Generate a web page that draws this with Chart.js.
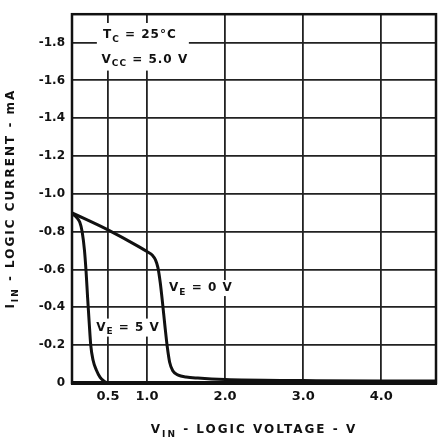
<!DOCTYPE html>
<html>
<head>
<meta charset="utf-8">
<script src="https://cdn.jsdelivr.net/npm/chart.js@4.4.1/dist/chart.umd.min.js"></script>
<style>
  html, body { margin: 0; background: #fff; }
</style>
</head>
<body>
<canvas id="grafica" width="439" height="441"></canvas>
<script>
// input voltage (V) and input current (mA)
var vinE0 = [0.04, 0.5, 0.9, 1.0, 1.07, 1.11, 1.14, 1.17, 1.2, 1.23, 1.26, 1.29, 1.33, 1.4, 1.5, 1.65, 2.0, 3.0, 4.0, 4.7];
var iinE0 = [-0.9, -0.81, -0.72, -0.695, -0.675, -0.65, -0.61, -0.53, -0.42, -0.3, -0.19, -0.11, -0.065, -0.042, -0.032, -0.026, -0.018, -0.013, -0.01, -0.01];
var vinE5 = [0.04, 0.1, 0.14, 0.17, 0.2, 0.22, 0.24, 0.26, 0.28, 0.31, 0.35, 0.4, 0.45, 0.49];
var iinE5 = [-0.895, -0.875, -0.85, -0.8, -0.7, -0.59, -0.45, -0.32, -0.2, -0.12, -0.07, -0.03, -0.01, 0];
var xTicks = [0.5, 1.0, 2.0, 3.0, 4.0];
var yTicks = [-1.8, -1.6, -1.4, -1.2, -1.0, -0.8, -0.6, -0.4, -0.2, 0];

var INK = '#111';
var FAM = '"DejaVu Sans", sans-serif';

function pts(xs, ys) {
    return xs.map(function(x, i){ return {x: x, y: ys[i]}; });
}

// text with subscripts, parts = [[text, isSub], ...]
function richText(ctx, parts, x, y, size, spacing) {
    var sub = Math.round(size * 0.75);
    var w = 0;
    ctx.letterSpacing = spacing + 'px';
    parts.forEach(function(p){
        ctx.font = 'bold ' + (p[1] ? sub : size) + 'px ' + FAM;
        w += ctx.measureText(p[0]).width;
    });
    var cx = x - w / 2;
    ctx.textBaseline = 'middle';
    ctx.textAlign = 'left';
    ctx.fillStyle = INK;
    parts.forEach(function(p){
        ctx.font = 'bold ' + (p[1] ? sub : size) + 'px ' + FAM;
        ctx.fillText(p[0], cx, p[1] ? y + size * 0.35 : y);
        cx += ctx.measureText(p[0]).width;
    });
    return w;
}

function whiteBox(ctx, x0, y0, x1, y1) {
    ctx.fillStyle = '#fff';
    ctx.fillRect(x0, y0, x1 - x0, y1 - y0);
}

var notas = {
    id: 'notas',
    beforeDatasetsDraw: function(chart) {
        var ctx = chart.ctx, xs = chart.scales.x, ys = chart.scales.y;
        ctx.save();
        // condition box
        var bx = xs.getPixelForValue(0.96), by1 = ys.getPixelForValue(-1.84), by2 = ys.getPixelForValue(-1.71);
        whiteBox(ctx, bx - 47, by1 - 12, bx + 45, by2 + 11);
        richText(ctx, [['T', 0], ['C', 1], [' = 25°C', 0]], bx - 4, by1, 12, 1);
        richText(ctx, [['V', 0], ['CC', 1], [' = 5.0 V', 0]], bx + 1, by2, 12, 1);
        // curve labels
        var ax = xs.getPixelForValue(1.69), ay = ys.getPixelForValue(-0.502);
        whiteBox(ctx, ax - 33, ay - 8, ax + 28, ay + 8);
        richText(ctx, [['V', 0], ['E', 1], [' = 0 V', 0]], ax, ay, 12, 1);
        var cx = xs.getPixelForValue(0.757), cy = ys.getPixelForValue(-0.293);
        whiteBox(ctx, cx - 33, cy - 9, cx + 30, cy + 9);
        richText(ctx, [['V', 0], ['E', 1], [' = 5 V', 0]], cx, cy, 12, 1);
        ctx.restore();
    },
    afterDraw: function(chart) {
        var ctx = chart.ctx, a = chart.chartArea;
        ctx.save();
        ctx.strokeStyle = INK;
        ctx.lineWidth = 2.5;
        ctx.strokeRect(a.left, a.top, a.right - a.left, a.bottom - a.top);
        ctx.lineWidth = 4;
        ctx.beginPath();
        ctx.moveTo(a.left - 1, a.bottom);
        ctx.lineTo(a.right + 1, a.bottom);
        ctx.stroke();
        // axis titles
        richText(ctx, [['V', 0], ['IN', 1], [' - LOGIC VOLTAGE - V', 0]], (a.left + a.right) / 2, 430, 12, 2);
        ctx.translate(11, (a.top + a.bottom) / 2);
        ctx.rotate(-Math.PI / 2);
        richText(ctx, [['I', 0], ['IN', 1], [' - LOGIC CURRENT - mA', 0]], 0, 0, 12, 2);
        ctx.restore();
    }
};

var ctx = document.getElementById('grafica').getContext('2d');
var chart = new Chart(ctx, {
    type: 'line',
    data: {
        datasets: [{
            label: 'VE = 0 V',
            data: pts(vinE0, iinE0),
            borderColor: INK,
            borderWidth: 3,
            pointRadius: 0,
            cubicInterpolationMode: 'monotone'
        }, {
            label: 'VE = 5 V',
            data: pts(vinE5, iinE5),
            borderColor: INK,
            borderWidth: 3,
            pointRadius: 0,
            cubicInterpolationMode: 'monotone'
        }]
    },
    options: {
        responsive: false,
        animation: false,
        layout: { padding: { top: 10, right: 3, left: 0, bottom: 0 } },
        plugins: { legend: { display: false }, tooltip: { enabled: false } },
        scales: {
            x: {
                type: 'linear',
                min: 0.04,
                max: 4.7,
                afterBuildTicks: function(s){ s.ticks = xTicks.map(function(v){ return {value: v}; }); },
                afterFit: function(s){ s.height = 58; },
                grid: { color: '#222', lineWidth: 1.8, drawTicks: false },
                border: { display: false },
                ticks: {
                    padding: 6,
                    color: INK,
                    font: { family: FAM, weight: 'bold', size: 13 },
                    callback: function(v){ return v.toFixed(1); }
                }
            },
            y: {
                type: 'linear',
                reverse: true,
                min: -1.95,
                max: 0,
                afterBuildTicks: function(s){ s.ticks = yTicks.map(function(v){ return {value: v}; }); },
                afterFit: function(s){ s.width = 72; },
                grid: { color: '#222', lineWidth: 1.8, drawTicks: false },
                border: { display: false },
                ticks: {
                    padding: 7,
                    color: INK,
                    font: { family: FAM, weight: 'bold', size: 12 },
                    callback: function(v){ return v === 0 ? '0' : v.toFixed(1); }
                }
            }
        }
    },
    plugins: [notas]
});
</script>
</body>
</html>
